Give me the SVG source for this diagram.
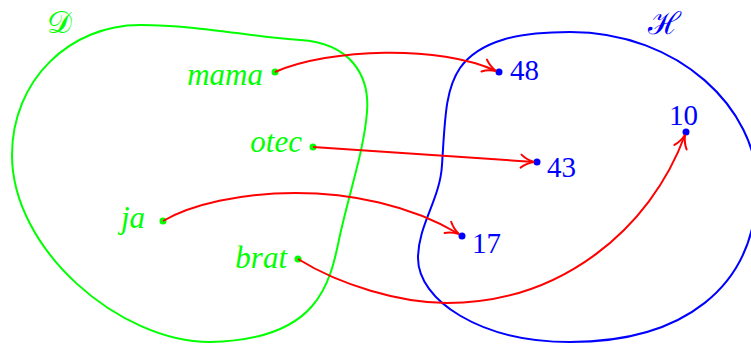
<svg xmlns="http://www.w3.org/2000/svg" width="751" height="344" viewBox="0 0 751 344">
<style>
.blob{fill:none;stroke-width:2}
.g{stroke:#00ff00}
.b{stroke:#0000ff}
.arr{fill:none;stroke:#ff0000;stroke-width:2;marker-end:url(#to)}
.lg{font-family:"Liberation Serif",serif;font-style:italic;font-size:31px;fill:#00ff00;text-anchor:end}
.lb{font-family:"Liberation Serif",serif;font-size:29px;fill:#0000ff}
.cal{font-family:"DejaVu Serif","Liberation Serif",serif;font-size:31px}
.dg{fill:#00ff00}
.db{fill:#0000ff}
</style>
<defs>
<marker id="to" markerUnits="userSpaceOnUse" orient="auto" markerWidth="20" markerHeight="20" refX="0" refY="0" viewBox="-15 -10 20 20" overflow="visible">
<path d="M-13,-6.5 C-9,-3 -4,-1 0,0 C-4,1 -9,3 -13,6.5" fill="none" stroke="#ff0000" stroke-width="2" stroke-linecap="round"/>
</marker>
</defs>
<g id="setD">
<path class="blob g" d="M140,25 C200,25 250,37 300,40 C350,43 370,75 367,112 C364,150 350,190 340,235 C330,285 318,340 210,342 C120,342 12,250 12,155 C12,80 70,25 140,25 Z"/>
<text class="cal" x="47" y="33" fill="#00ff00">𝒟</text>
</g>
<g id="setH">
<path class="blob b" d="M570,32 C680,32 757,110 757,185 C757,290 680,342 570,342 C480,342 418,300 418,258 C418,225 440,200 442,165 C445,120 445,90 460,68 C480,40 520,32 570,32 Z"/>
<text class="cal" x="648" y="34" fill="#0000ff">ℋ</text>
</g>
<g id="mama"><circle class="dg" cx="275" cy="72" r="3.5"/><text class="lg" x="263" y="85">mama</text></g>
<g id="otec"><circle class="dg" cx="313" cy="147" r="3.5"/><text class="lg" x="302" y="152">otec</text></g>
<g id="ja"><circle class="dg" cx="163" cy="221" r="3.5"/><text class="lg" x="145" y="228">ja</text></g>
<g id="brat"><circle class="dg" cx="298" cy="259" r="3.5"/><text class="lg" x="287" y="268">brat</text></g>
<g id="n48"><circle class="db" cx="499" cy="72" r="3.5"/><text class="lb" x="510" y="80">48</text></g>
<g id="n43"><circle class="db" cx="537" cy="162" r="3.5"/><text class="lb" x="547" y="177">43</text></g>
<g id="n17"><circle class="db" cx="462" cy="236" r="3.5"/><text class="lb" x="472" y="253">17</text></g>
<g id="n10"><circle class="db" cx="686" cy="132" r="3.5"/><text class="lb" x="669" y="125">10</text></g>
<g id="connectors">
<path class="arr" d="M275,72 C330,48 440,45 496,71"/>
<path class="arr" d="M313,147 L534,162"/>
<path class="arr" d="M163,221 C220,188 360,175 459,234"/>
<path class="arr" d="M298,259 C340,285 400,303 447,303 C560,303 650,230 685,135"/>
</g>
</svg>
